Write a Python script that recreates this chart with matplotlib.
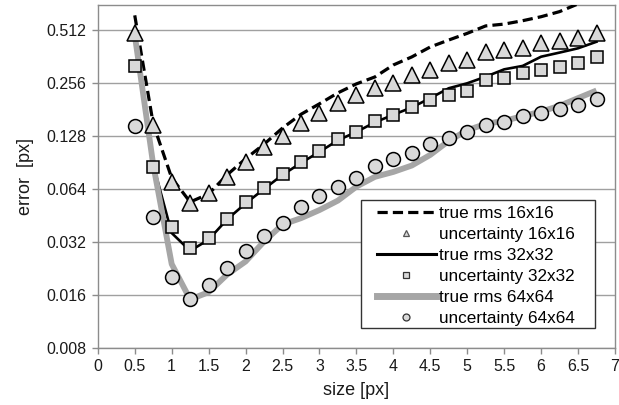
import matplotlib
matplotlib.use("Agg")
import matplotlib.pyplot as plt
from matplotlib.lines import Line2D
from matplotlib.patches import Rectangle
from matplotlib.ticker import FixedLocator, FixedFormatter, MultipleLocator

plt.rcParams['font.family'] = ['Liberation Sans', 'DejaVu Sans']

size = [0.5, 0.75, 1.0, 1.25, 1.5, 1.75, 2.0, 2.25, 2.5, 2.75, 3.0, 3.25, 3.5,
        3.75, 4.0, 4.25, 4.5, 4.75, 5.0, 5.25, 5.5, 5.75, 6.0, 6.25, 6.5, 6.75]

rms_16 = [0.62, 0.15, 0.074, 0.054, 0.060, 0.077, 0.095, 0.115, 0.142, 0.170,
          0.195, 0.225, 0.253, 0.277, 0.324, 0.360, 0.410, 0.449, 0.490, 0.540,
          0.553, 0.578, 0.609, 0.651, 0.72, 0.78]
unc_16 = [0.49, 0.147, 0.0705, 0.0531, 0.0605, 0.0752, 0.0915, 0.111, 0.128,
          0.151, 0.172, 0.196, 0.219, 0.239, 0.257, 0.284, 0.304, 0.331, 0.346,
          0.386, 0.392, 0.406, 0.430, 0.441, 0.459, 0.490]

rms_32 = [0.45, 0.088, 0.036, 0.0285, 0.033, 0.043, 0.053, 0.064, 0.077, 0.090,
          0.104, 0.121, 0.135, 0.153, 0.169, 0.186, 0.210, 0.239, 0.255, 0.278,
          0.306, 0.320, 0.361, 0.381, 0.403, 0.439]
unc_32 = [0.321, 0.0858, 0.0388, 0.0294, 0.0338, 0.0432, 0.0538, 0.0646, 0.0777,
          0.0908, 0.1056, 0.1226, 0.134, 0.156, 0.169, 0.188, 0.205, 0.219, 0.231,
          0.266, 0.272, 0.290, 0.304, 0.314, 0.334, 0.361]

rms_64 = [0.48, 0.088, 0.024, 0.0151, 0.0166, 0.0209, 0.0248, 0.0322, 0.0402,
          0.0437, 0.0486, 0.055, 0.066, 0.075, 0.080, 0.087, 0.100, 0.120, 0.138,
          0.150, 0.156, 0.166, 0.176, 0.190, 0.210, 0.232]
unc_64 = [0.146, 0.0442, 0.0202, 0.0151, 0.0183, 0.0229, 0.0286, 0.0346, 0.0412,
          0.0503, 0.0587, 0.066, 0.0742, 0.0866, 0.0948, 0.102, 0.115, 0.124,
          0.134, 0.148, 0.154, 0.166, 0.172, 0.182, 0.192, 0.208]

y_ticks = [0.008, 0.016, 0.032, 0.064, 0.128, 0.256, 0.512]
y_labels = ['0.008', '0.016', '0.032', '0.064', '0.128', '0.256', '0.512']
labels = ['true rms 16x16', 'uncertainty 16x16', 'true rms 32x32',
          'uncertainty 32x32', 'true rms 64x64', 'uncertainty 64x64']

W, H = 619, 405
fig = plt.figure(figsize=(W / 100, H / 100), dpi=100)
ax = fig.add_axes([0.158, 0.1407, 0.8355, 0.847])

face = '#d9d9d9'
gray_line = '#a6a6a6'
dash = (0, (3.2, 1.6))

ax.plot(size, rms_16, color='black', lw=2.3, ls=dash, zorder=3)
ax.plot(size, unc_16, ls='none', marker='^', ms=11, mfc=face, mec='black', mew=1.1, zorder=5)
ax.plot(size, rms_32, color='black', lw=1.9, zorder=3)
ax.plot(size, unc_32, ls='none', marker='s', ms=8, mfc=face, mec='black', mew=1.1, zorder=5)
ax.plot(size, rms_64, color=gray_line, lw=4.2, zorder=3, solid_capstyle='butt')
ax.plot(size, unc_64, ls='none', marker='o', ms=10, mfc=face, mec='black', mew=1.1, zorder=5)

ax.set_yscale('log', base=2)
ax.set_ylim(0.008, 0.71)
ax.set_xlim(0, 7)
ax.xaxis.set_major_locator(MultipleLocator(0.5))
ax.set_xticklabels([('%g' % v) for v in ax.get_xticks()])
ax.yaxis.set_major_locator(FixedLocator(y_ticks))
ax.yaxis.set_major_formatter(FixedFormatter(y_labels))
ax.yaxis.set_minor_locator(FixedLocator([]))

ax.grid(axis='y', color='#a0a0a0', lw=1.0, zorder=0)
for sp in ax.spines.values():
    sp.set_color('#8c8c8c')
    sp.set_linewidth(1.0)
ax.tick_params(axis='both', which='major', length=4, width=1.0, color='#8c8c8c',
               labelsize=11.5, labelcolor='#1a1a1a', pad=4)

ax.set_xlabel('size [px]', fontsize=13, color='#1a1a1a', labelpad=6)
ax.set_ylabel('error  [px]', fontsize=13, color='#1a1a1a', labelpad=9)

# legend box (wider side padding than matplotlib gives)
box = Rectangle((361 / W, 1 - 328 / H), 234 / W, 128 / H, transform=fig.transFigure,
                facecolor='white', edgecolor='#333333', lw=1.0, zorder=6)
fig.patches.append(box)

handles = [
    Line2D([], [], color='black', lw=2.3, ls=dash),
    Line2D([], [], ls='none', marker='^', ms=5, mfc=face, mec='#555555', mew=0.9),
    Line2D([], [], color='black', lw=2.2),
    Line2D([], [], ls='none', marker='s', ms=5, mfc=face, mec='#333333', mew=0.9),
    Line2D([], [], color=gray_line, lw=5),
    Line2D([], [], ls='none', marker='o', ms=5, mfc=face, mec='#333333', mew=0.9),
]
leg = fig.legend(handles, labels, loc='upper left', bbox_to_anchor=(377 / W, 1 - 205.5 / H),
                 fontsize=12.3, frameon=False, handlelength=3.45, handletextpad=0.18,
                 labelspacing=0.36, borderpad=0, borderaxespad=0)
leg.set_zorder(7)

plt.savefig('out.png', dpi=100)
